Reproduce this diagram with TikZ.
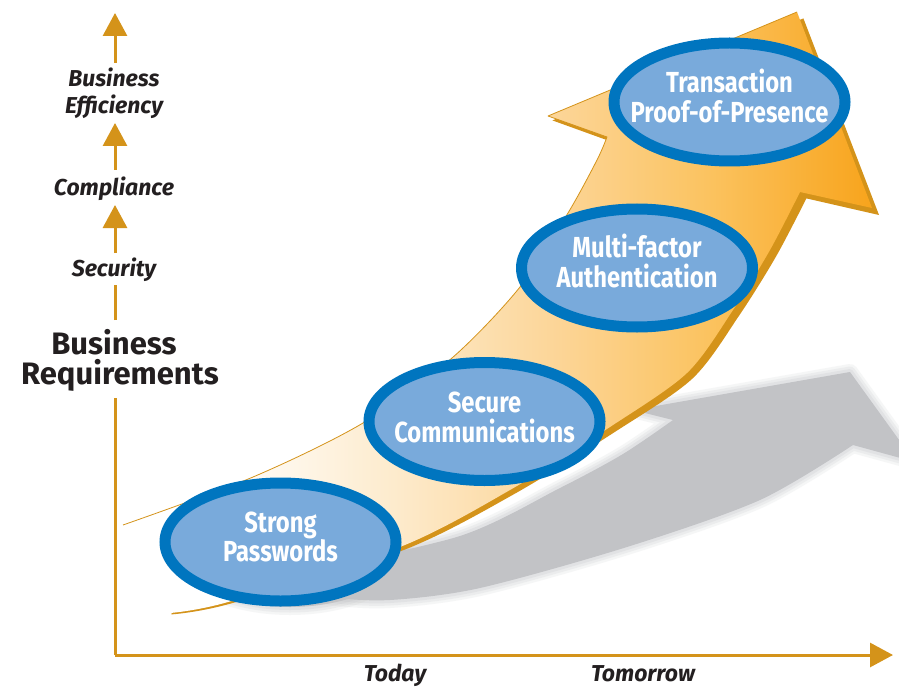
\documentclass[tikz,border=0pt]{standalone}
\usepackage{fontspec}
\setmainfont{Fira Sans}
\newfontfamily\ellfont[FakeStretch=0.82]{Fira Sans}
\usetikzlibrary{arrows.meta,shapes.geometric}
\definecolor{axgold}{HTML}{D4931A}
\definecolor{txtdark}{HTML}{231F20}
\definecolor{ellblue}{HTML}{0075BF}
\definecolor{ellfill}{HTML}{79AADB}
\definecolor{darkor}{HTML}{D4931A}
\definecolor{shgray}{HTML}{C2C3C6}
\definecolor{orA}{HTML}{FDEBCD}
\definecolor{orB}{HTML}{FCD597}
\definecolor{orC}{HTML}{FBC360}
\definecolor{orD}{HTML}{F8A41C}
\pgfdeclarehorizontalshading{arrowshade}{100bp}{color(0bp)=(white); color(31bp)=(white); color(43bp)=(orA); color(54bp)=(orB); color(64bp)=(orC); color(75bp)=(orD); color(100bp)=(orD)}
\begin{document}
\begin{tikzpicture}[x=1pt,y=-1pt,
  axisline/.style={draw=axgold, line width=3pt},
  axtip/.style={-{Triangle[length=23pt,width=24pt]}},
  ell/.style={ellipse, draw=ellblue, fill=ellfill, line width=11pt, minimum width=231pt, minimum height=118pt, inner sep=0pt},
  elltext/.style={font=\ellfont\bfseries\fontsize{29}{30}\selectfont, text=white, inner sep=0pt, anchor=base},
  lab/.style={font=\bfseries\itshape\fontsize{23}{23}\selectfont, text=txtdark, inner sep=0pt, anchor=base},
  biglab/.style={font=\bfseries\fontsize{31}{31}\selectfont, text=txtdark, inner sep=0pt, anchor=base}]
\useasboundingbox (0,0) rectangle (899,687);
\fill[white] (0,0) rectangle (899,687);

% ground shadow
\def\shadowpath{plot[smooth] coordinates {(300,572) (460,536) (560,488) (623,454) (673,420)} -- (633,410) -- (850,372) -- (915,462) -- (853,445) -- plot[smooth] coordinates {(853,445) (760,500) (627,547) (480,588) (390,600) (330,597) (300,586)} -- cycle}
\def\ellshadow{(290,547) ellipse [x radius=116, y radius=60]}
\foreach \w/\o in {16/0.15,11/0.18,6/0.22}{
  \draw[shgray, line width=\w, opacity=\o, line join=round] \shadowpath;
  \draw[shgray, line width=\w, opacity=\o] \ellshadow;
}
\fill[shgray] \shadowpath;
\fill[shgray] \ellshadow;

% 3D edge of the big arrow
\fill[darkor] plot[smooth] coordinates {(124,526) (255,479) (366,426) (455.6,361.6) (524.2,291.2) (572.6,217.6) (601.8,164.8) (611.9,141.9)} -- (552.4,120.4) -- (803.4,18.4) -- (879,215) -- (806.4,198.4) -- plot[smooth] coordinates {(806.4,198.4) (776.2,256.2) (738.9,315.9) (692.5,378.5) (614.9,431.9) (514.1,494.1) (403.2,550.2) (229.8,603.8) (171.4,614.4)} -- (180,570) -- cycle;

% big arrow face
\shade[shading=arrowshade] plot[smooth] coordinates {(123,525) (253,477) (363,423) (452,358) (520,287) (568,213) (597,160) (607,137)} -- (548,116) -- (797,12) -- (872,208) -- (800,192) -- plot[smooth] coordinates {(800,192) (770,250) (733,310) (687,373) (610,427) (510,490) (400,547) (228,602) (170,613)} -- cycle;
\draw[darkor, line width=0.8pt, line join=round] plot[smooth] coordinates {(123,525) (253,477) (363,423) (452,358) (520,287) (568,213) (597,160) (607,137)} -- (548,116) -- (797,12);

% ellipses
\node[ell] (e1) at (280.5,542) {};
\node[ell] (e2) at (484.5,421.5) {};
\node[ell] (e3) at (637,268) {};
\node[ell] (e4) at (729.5,102) {};
\node[elltext] (t1a) at (280.5,532) {Strong};
\node[elltext] (t1b) at (280.5,561) {Passwords};
\node[elltext] (t2a) at (484.5,412) {Secure};
\node[elltext] (t2b) at (484.5,442) {Communications};
\node[elltext] (t3a) at (637,257) {Multi-factor};
\node[elltext] (t3b) at (637,287) {Authentication};
\node[elltext] (t4a) at (729.5,93) {Transaction};
\node[elltext] (t4b) at (729.5,123) {Proof-of-Presence};

% axes
\coordinate (o) at (115,655);
\coordinate (xtip) at (893,655);
\coordinate (v0) at (115,398);
\coordinate (v1) at (115,320);
\coordinate (v2) at (115,285);
\coordinate (v3) at (115,253);
\coordinate (v4) at (115,205);
\coordinate (v5) at (115,170);
\coordinate (v6) at (115,123);
\coordinate (v7) at (115,63);
\coordinate (v8) at (115,13);
\draw[axisline, axtip] (o) -- (xtip);
\draw[axisline] (o) -- (v0);
\draw[axisline] (v1) -- (v2);
\draw[axisline, axtip] (v3) -- (v4);
\draw[axisline, axtip] (v5) -- (v6);
\draw[axisline, axtip] (v7) -- (v8);

% labels
\node[lab] (be1) at (114,87) {Business};
\node[lab] (be2) at (114,114) {Efficiency};
\node[lab] (comp) at (114,196) {Compliance};
\node[lab] (sec) at (114,276) {Security};
\node[biglab] (br1) at (114,354) {Business};
\node[biglab] (br2) at (120,384) {Requirements};
\node[lab] (today) at (395,681) {Today};
\node[lab] (tomorrow) at (643,681) {Tomorrow};
\end{tikzpicture}
\end{document}
